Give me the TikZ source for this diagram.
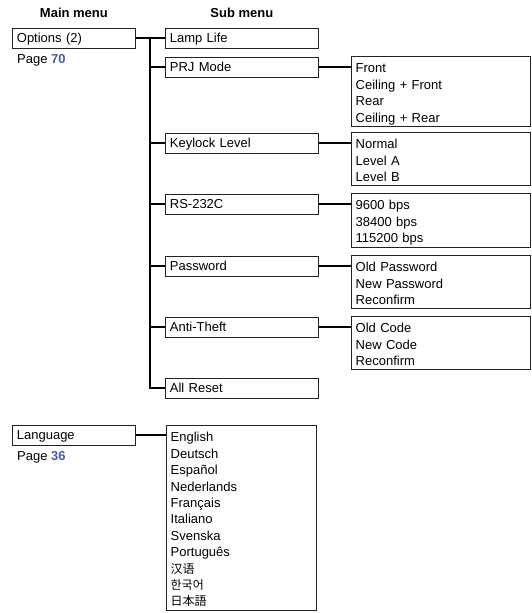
\documentclass[tikz,border=0pt]{standalone}
\usepackage{fontspec}
\setmainfont{Liberation Sans}
\newfontfamily\cjksc{Noto Sans CJK SC}
\newfontfamily\cjkkr{Noto Sans CJK KR}
\newfontfamily\cjkjp{Noto Sans CJK JP}
\usetikzlibrary{positioning,calc}
\definecolor{boxink}{HTML}{222222}
\definecolor{pageblue}{HTML}{4A5AA8}
\newcommand{\pgref}[1]{Page \textcolor{pageblue}{\bfseries #1}}

\begin{document}
\begin{tikzpicture}[
  x=1pt, y=-1pt,
  font=\fontsize{13}{16.4}\selectfont,
  menubox/.style={draw=boxink, line width=0.8pt, anchor=north west,
                  minimum height=20pt, inner xsep=4.5pt, inner ysep=0pt,
                  text height=11.5pt, text depth=2pt, align=left},
  mainbox/.style={menubox, text width=114pt},
  subbox/.style={menubox, text width=144pt},
  listbox/.style={draw=boxink, line width=0.8pt,
                  inner xsep=4.5pt, inner ysep=2pt, align=left,
                  execute at begin node={\rule{0pt}{15pt}},
                  execute at end node={\rule[-2pt]{0pt}{2pt}}},
  head/.style={font=\fontsize{13}{16}\selectfont\bfseries, inner sep=0pt},
  pageref/.style={anchor=base west, inner sep=0pt},
  link/.style={draw=black, line width=1.6pt},
]
\useasboundingbox (0,0) rectangle (532,613);

% --- Main menu column ---
\node[mainbox] (opt)  at (12,27.5)  {Options (2)};
\node[mainbox] (lang) at (12,424.5) {Language};
\node[pageref] (pg70) at ([shift={(5,15)}]opt.south west)  {\pgref{70}};
\node[pageref] (pg36) at ([shift={(5,15)}]lang.south west) {\pgref{36}};

% --- Sub menu column ---
\node[subbox] (lamp)  at (165,27.5)  {Lamp Life};
\node[subbox] (prj)   at (165,56.5)  {PRJ Mode};
\node[subbox] (key)   at (165,132.5) {Keylock Level};
\node[subbox] (rs)    at (165,193.5) {RS-232C};
\node[subbox] (pwd)   at (165,255.5) {Password};
\node[subbox] (theft) at (165,316.5) {Anti-Theft};
\node[subbox] (reset) at (165,377.5) {All Reset};

% --- Headers ---
\node[head, above=10pt of opt]  (hmain) {Main menu};
\node[head, above=10pt of lamp] (hsub)  {Sub menu};

% --- Setting lists ---
\node[listbox, text width=170pt, right=32pt of prj.north east, anchor=north west, yshift=1pt]
  (prjlist) {Front\\Ceiling + Front\\Rear\\Ceiling + Rear};
\node[listbox, text width=170pt, right=32pt of key.north east, anchor=north west, yshift=1pt]
  (keylist) {Normal\\Level A\\Level B};
\node[listbox, text width=170pt, right=32pt of rs.north east, anchor=north west, yshift=1pt]
  (rslist) {9600 bps\\38400 bps\\115200 bps};
\node[listbox, text width=170pt, right=32pt of pwd.north east, anchor=north west, yshift=1pt]
  (pwdlist) {Old Password\\New Password\\Reconfirm};
\node[listbox, text width=170pt, right=32pt of theft.north east, anchor=north west, yshift=1pt]
  (theftlist) {Old Code\\New Code\\Reconfirm};
\node[listbox, text width=141pt, right=30pt of lang.north east, anchor=north west]
  (langlist) {English\\Deutsch\\Español\\Nederlands\\Français\\Italiano\\Svenska\\Português\\%
  {\cjksc\fontsize{12}{16.4}\selectfont 汉语}\\{\cjkkr\fontsize{12}{16.4}\selectfont 한국어}\\%
  {\cjkjp\fontsize{12}{16.4}\selectfont 日本語}};

% --- Connectors ---
\coordinate (tr) at (150,0);
\draw[link] (opt.east) -- (lamp.west);
\draw[link] (opt.east -| tr) |- (reset.west);
\foreach \s in {prj,key,rs,pwd,theft}
  \draw[link] (\s.west -| tr) -- (\s.west);
\foreach \s/\l in {prj/prjlist,key/keylist,rs/rslist,pwd/pwdlist,theft/theftlist}
  \draw[link] (\s.east) -- (\s.east -| \l.west);
\draw[link] (lang.east) -- (lang.east -| langlist.west);
\end{tikzpicture}
\end{document}
